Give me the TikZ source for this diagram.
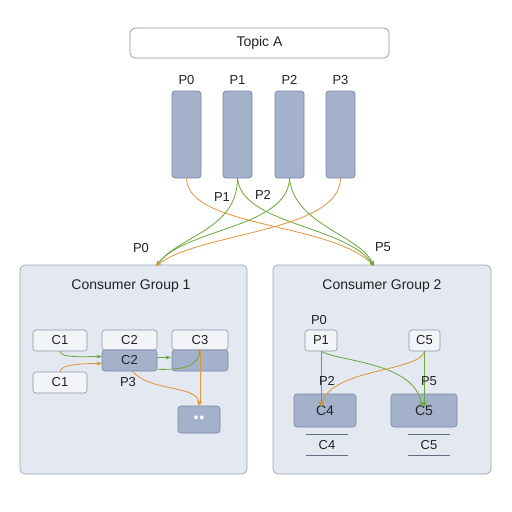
\documentclass[tikz,border=0pt]{standalone}
\usepackage{fontspec}
\setmainfont{Liberation Sans}
\usetikzlibrary{arrows.meta,calc}
\definecolor{grpfill}{HTML}{E3E8F1}
\definecolor{grpdraw}{HTML}{9AA3B5}
\definecolor{darkfill}{HTML}{A4B1CB}
\definecolor{darkdraw}{HTML}{7A88A6}
\definecolor{lightfill}{HTML}{F2F4F8}
\definecolor{lightdraw}{HTML}{8A94A8}
\definecolor{grn}{HTML}{6AA63A}
\definecolor{org}{HTML}{E0953A}
\definecolor{txt}{HTML}{222222}
\begin{document}
\begin{tikzpicture}[x=1pt,y=-1pt,
  every node/.style={text=txt, inner sep=0pt, font=\fontsize{13}{15}\selectfont},
  group/.style={draw=grpdraw, fill=grpfill, rounded corners=5pt, line width=0.7pt},
  part/.style={draw=darkdraw, fill=darkfill, rounded corners=3pt, minimum width=29pt, minimum height=87pt, line width=0.7pt},
  lbox/.style={draw=lightdraw, fill=lightfill, rounded corners=3pt, line width=0.6pt},
  dbox/.style={draw=darkdraw, fill=darkfill, rounded corners=3pt, line width=0.6pt},
  lbl/.style={font=\fontsize{13}{15}\selectfont},
  ga/.style={draw=grn, line width=0.8pt, -{Stealth[length=5pt,width=4pt]}},
  oa/.style={draw=org, line width=0.8pt, -{Stealth[length=5pt,width=4pt]}},
  gl/.style={draw=grn, line width=0.8pt},
  ol/.style={draw=org, line width=0.8pt}]
\useasboundingbox (0,0) rectangle (512,512);
\fill[white] (0,0) rectangle (512,512);

% topic
\node[draw=lightdraw, fill=white, rounded corners=5pt, minimum width=259pt, minimum height=30pt, line width=0.7pt,
  font=\fontsize{14}{16}\selectfont] (topic) at (259.5,43) {Topic A};

% partitions
\node[part] (p0) at (186.5,134.5) {};
\node[part] (p1) at (237.5,134.5) {};
\node[part] (p2) at (289.5,134.5) {};
\node[part] (p3) at (340.5,134.5) {};
\node[lbl] (lp0) at (186.5,80) {P0};
\node[lbl] (lp1) at (237.5,80) {P1};
\node[lbl] (lp2) at (289.5,80) {P2};
\node[lbl] (lp3) at (340.5,80) {P3};

% groups
\node[group, minimum width=227pt, minimum height=209pt] (g1) at (133.5,369.5) {};
\node[group, minimum width=218pt, minimum height=209pt] (g2) at (382,369.5) {};
\node[font=\fontsize{14}{16}\selectfont] (g1t) at (131,286) {Consumer Group 1};
\node[font=\fontsize{14}{16}\selectfont] (g2t) at (382,286) {Consumer Group 2};

\coordinate (t1) at (156,266);
\coordinate (t2) at (374,266);

% top connectors
\draw[oa] (p0.south) .. controls (188,228) and (330,222) .. (t2);
\draw[ga] (p1.south) .. controls (237,230) and (180,235) .. (t1);
\draw[ga] (p1.south) .. controls (242,225) and (345,225) .. (t2);
\draw[ga] (p2.south) .. controls (288,228) and (185,228) .. (t1);
\draw[ga] (p2.south) .. controls (294,225) and (360,235) .. (t2);
\draw[oa] (p3.south) .. controls (340,232) and (200,232) .. (t1);

\node[lbl] (l1) at (222,197) {P1};
\node[lbl] (l2) at (263,195) {P2};
\node[lbl] (l0) at (141,248) {P0};
\node[lbl] (l5) at (383,247) {P5};

% group 1 content
\node[lbox, minimum width=54pt, minimum height=21pt] (c1a) at (60,340.5) {C1};
\node[lbox, minimum width=54pt, minimum height=21pt] (c1b) at (60,382.5) {C1};
\node[lbox, minimum width=55pt, minimum height=20pt] (c2a) at (129.5,340) {C2};
\node[dbox, minimum width=55pt, minimum height=21pt] (c2b) at (129.5,360.5) {C2};
\node[lbox, minimum width=56pt, minimum height=20pt] (c3a) at (200,340) {C3};
\node[dbox, minimum width=56pt, minimum height=21pt] (c3b) at (200,360.5) {};
\node[dbox, minimum width=42pt, minimum height=27pt, text=white, font=\fontsize{14}{14}\selectfont] (dots) at (199,419.5) {\textbullet\hspace{1pt}\textbullet};
\node[lbl] (lp3b) at (128,382) {P3};

\draw[ga] (c1a.south) .. controls +(0,7) and +(-15,0) .. ($(c2b.west)+(0,-4)$);
\draw[oa] (c1b.north) .. controls +(0,-8) and +(-15,0) .. ($(c2b.west)+(0,3)$);
\draw[ga] ($(c2b.east)+(0,-3)$) -- ($(c3b.west)+(-1,-3)$);
\draw[gl] (c3b.north) .. controls (199,366) and (185,370) .. ($(c2b.south east)+(0,-2)$);
\draw[oa] ($(c2b.south)+(3,0)$) .. controls (150,392) and (198,385) .. (dots.north);
\draw[oa] (c3b.north) -- (c3b.north |- dots.north);

% group 2 content
\node[lbl] (lg2p0) at (319,320) {P0};
\node[lbox, minimum width=32pt, minimum height=21pt] (p1b) at (321,340.5) {P1};
\node[lbox, minimum width=31pt, minimum height=21pt] (c5a) at (424.5,340.5) {C5};
\node[dbox, minimum width=62pt, minimum height=33pt, font=\fontsize{14}{16}\selectfont] (c4) at (325,410.5) {\raisebox{-5pt}{C4}};
\node[dbox, minimum width=66pt, minimum height=33pt, font=\fontsize{14}{16}\selectfont] (c5) at (424,410.5) {\raisebox{-5pt}{C5}};
\coordinate (e4) at (321,407);
\coordinate (e5) at (422,407);

\draw[ga] (p1b.south) -- (p1b.south |- e4);
\draw[ga] (p1b.south) .. controls (340,362) and (415,362) .. (e5);
\draw[oa] (c5a.south) .. controls (420,372) and (330,368) .. (e4);
\draw[ga] (c5a.south) -- (c5a.south |- e5);
\node[lbl] (lg2p2) at (327,381) {P2};
\node[lbl] (lg2p5) at (429,381) {P5};

\node[minimum width=42pt, minimum height=20pt, font=\fontsize{13}{15}\selectfont] (c4l) at (327,445) {C4};
\node[minimum width=42pt, minimum height=20pt, font=\fontsize{13}{15}\selectfont] (c5l) at (429,445) {C5};
\draw[darkdraw!80!black, line width=0.7pt] (c4l.north west) -- (c4l.north east) (c4l.south west) -- (c4l.south east);
\draw[darkdraw!80!black, line width=0.7pt] (c5l.north west) -- (c5l.north east) (c5l.south west) -- (c5l.south east);
\end{tikzpicture}
\end{document}
